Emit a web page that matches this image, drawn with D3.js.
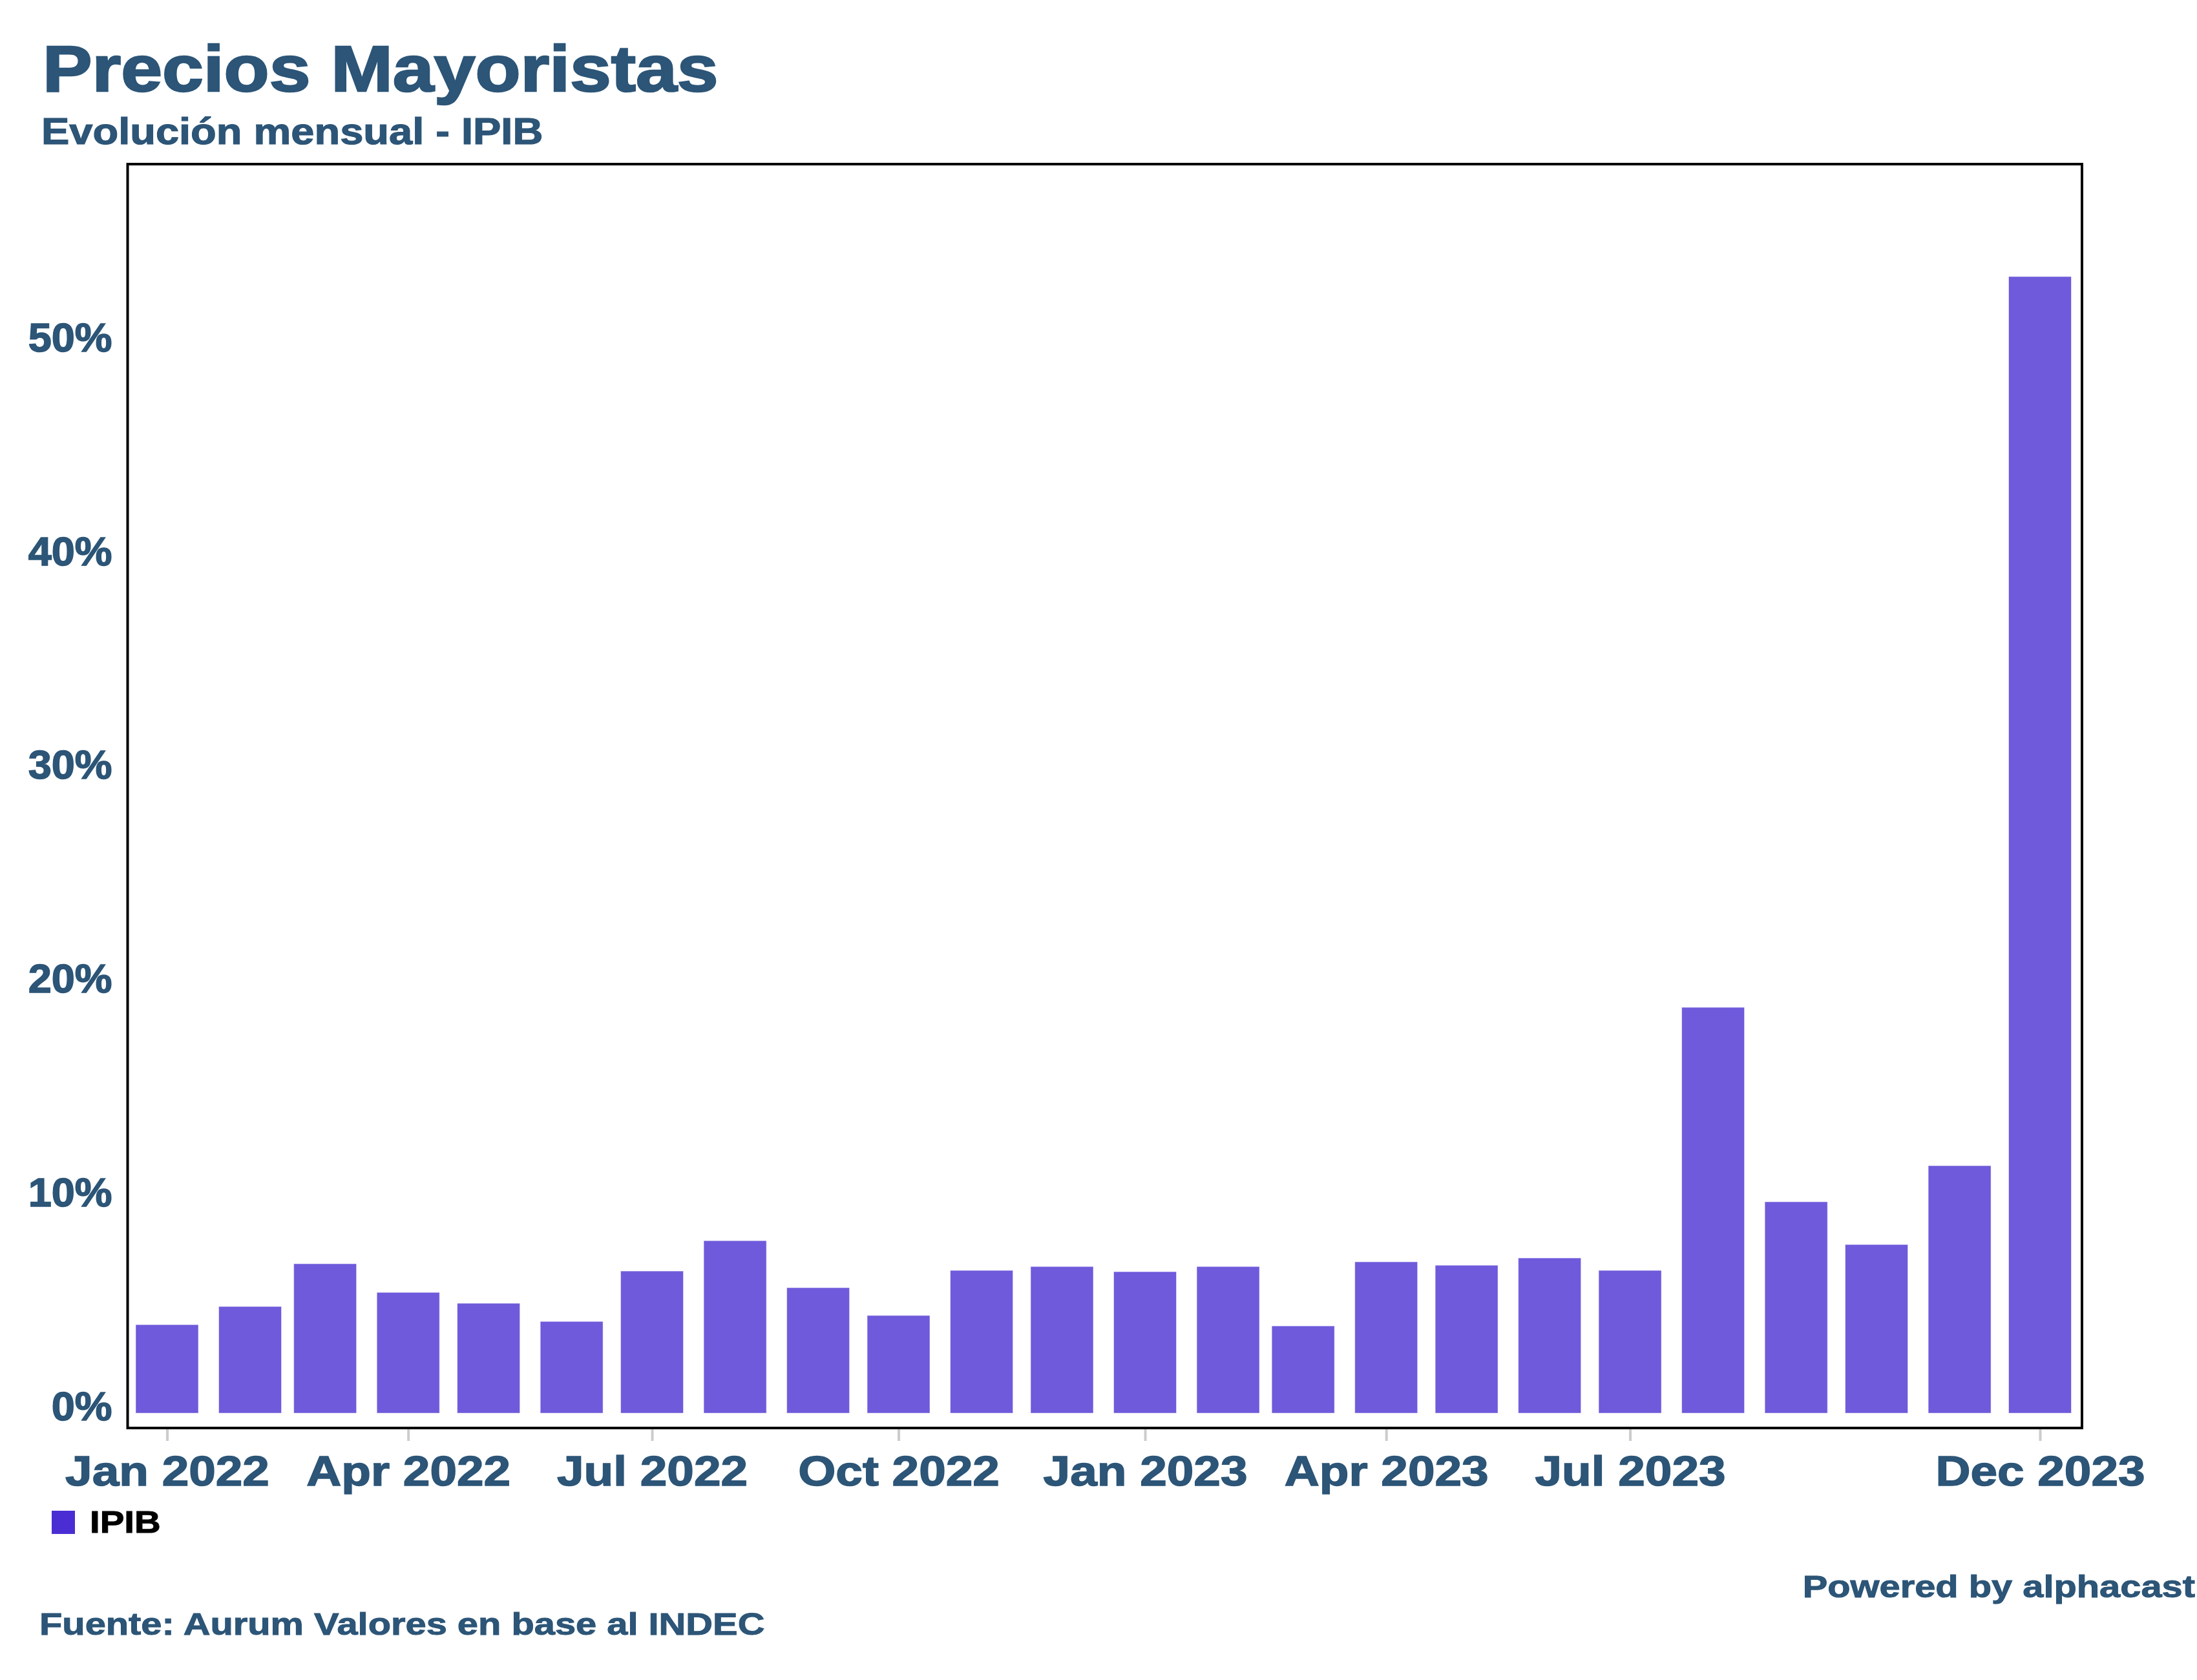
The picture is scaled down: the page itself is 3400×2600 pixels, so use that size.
<!DOCTYPE html>
<html>
<head>
<meta charset="utf-8">
<script src="https://cdn.jsdelivr.net/npm/d3@7"></script>
<style>
  body { margin: 0; background: #fff; }
  text { font-family: "Liberation Sans", Arial, sans-serif; font-weight: 700; }
</style>
</head>
<body>
<div id="chart"></div>
<script>
// monthly IPIB change, %
const months = ["2022-01", "2022-02", "2022-03", "2022-04", "2022-05", "2022-06",
  "2022-07", "2022-08", "2022-09", "2022-10", "2022-11", "2022-12",
  "2023-01", "2023-02", "2023-03", "2023-04", "2023-05", "2023-06",
  "2023-07", "2023-08", "2023-09", "2023-10", "2023-11", "2023-12"];
const ipib = [4.14, 4.99, 6.99, 5.65, 5.14, 4.29, 6.65, 8.07, 5.87, 4.57, 6.68, 6.86,
  6.62, 6.86, 4.08, 7.08, 6.92, 7.26, 6.68, 18.99, 9.89, 7.89, 11.58, 53.19];
const yTicks = [0, 10, 20, 30, 40, 50];
const xTickMonths = ["2022-01", "2022-04", "2022-07", "2022-10", "2023-01", "2023-04", "2023-07", "2023-12"];

const width = 3400, height = 2600;
const frame = { left: 197.5, top: 254, right: 3222, bottom: 2210 };
const textColor = "#2c5577";
const barColor = "#6e5adb";

const parseMonth = d3.utcParse("%Y-%m");
const fmtMonth = d3.utcFormat("%b %Y");

const svg = d3.select("#chart")
  .append("svg")
  .attr("width", width)
  .attr("height", height)
  .attr("viewBox", [0, 0, width, height]);

svg.append("rect").attr("width", width).attr("height", height).attr("fill", "#fff");

// widen Liberation Sans glyphs a bit so it reads like the heavy font in the original
function stretch(sel, k) {
  sel.each(function() {
    const w = this.getComputedTextLength();
    d3.select(this).attr("textLength", w * k).attr("lengthAdjust", "spacingAndGlyphs");
  });
}

const data = months.map((m, i) => ({ date: parseMonth(m), value: ipib[i] }));

let x = d3.scaleUtc()
  .domain([parseMonth(months[0]), parseMonth(months[months.length - 1])])
  .range([258.5, 3157]);

let y = d3.scaleLinear()
  .domain([0, 50])
  .range([2187, 533.5]);

const barW = 97;

// bars
svg.append("g")
  .selectAll("rect")
  .data(data)
  .join("rect")
    .attr("x", d => x(d.date) - barW / 2)
    .attr("y", d => y(d.value))
    .attr("width", barW)
    .attr("height", d => y(0) - y(d.value))
    .attr("fill", barColor)
    .attr("stroke", "rgba(255,255,255,0.5)")
    .attr("stroke-width", 1);

// x axis: ticks + labels
const xAxis = svg.append("g")
  .attr("transform", `translate(0,${frame.bottom})`)
  .call(d3.axisBottom(x)
    .tickValues(xTickMonths.map(parseMonth))
    .tickFormat(fmtMonth)
    .tickSize(20)
    .tickPadding(48));

xAxis.select(".domain").attr("stroke", "#ccc").attr("stroke-width", 3);
xAxis.selectAll(".tick line").attr("stroke", "#ccc").attr("stroke-width", 4);
xAxis.selectAll(".tick text")
  .attr("fill", textColor)
  .attr("font-size", 65)
  .attr("font-family", "Liberation Sans, Arial, sans-serif")
  .attr("font-weight", 700)
  .attr("stroke", textColor)
  .attr("stroke-width", 1.5)
  .attr("dy", "0")
  .attr("y", 89)
  .call(stretch, 1.15);

// y axis labels (no gridlines in the original)
const yAxis = svg.append("g")
  .attr("transform", `translate(${frame.left},0)`)
  .call(d3.axisLeft(y)
    .tickValues(yTicks)
    .tickFormat(d => d + "%")
    .tickSize(0)
    .tickPadding(24));

yAxis.select(".domain").remove();
yAxis.selectAll(".tick text")
  .attr("fill", textColor)
  .attr("font-size", 63)
  .attr("font-family", "Liberation Sans, Arial, sans-serif")
  .attr("font-weight", 700)
  .attr("stroke", textColor)
  .attr("stroke-width", 1.5)
  .attr("dy", "0")
  .attr("y", 10)
  .call(stretch, 1.03);

// plot frame
svg.append("rect")
  .attr("x", frame.left)
  .attr("y", frame.top)
  .attr("width", frame.right - frame.left)
  .attr("height", frame.bottom - frame.top)
  .attr("fill", "none")
  .attr("stroke", "#000")
  .attr("stroke-width", 4);

// title block
svg.append("text")
  .attr("x", 66)
  .attr("y", 141)
  .attr("font-size", 100)
  .attr("fill", textColor)
  .attr("stroke", textColor)
  .attr("stroke-width", 2.5)
  .text("Precios Mayoristas")
  .call(stretch, 1.147);

svg.append("text")
  .attr("x", 64)
  .attr("y", 223)
  .attr("font-size", 57)
  .attr("fill", textColor)
  .attr("stroke", textColor)
  .attr("stroke-width", 1.2)
  .text("Evolución mensual - IPIB")
  .call(stretch, 1.14);

// legend
const legend = svg.append("g").attr("transform", "translate(80,2338)");
legend.append("rect")
  .attr("width", 36)
  .attr("height", 36)
  .attr("fill", "#4a2ed4");
legend.append("text")
  .attr("x", 59)
  .attr("y", 34)
  .attr("font-size", 49)
  .attr("fill", "#000")
  .attr("stroke", "#000")
  .attr("stroke-width", 1)
  .text("IPIB")
  .call(stretch, 1.15);

// footer
svg.append("text")
  .attr("x", 3397)
  .attr("y", 2472)
  .attr("text-anchor", "end")
  .attr("font-size", 49)
  .attr("fill", textColor)
  .attr("stroke", textColor)
  .attr("stroke-width", 1)
  .text("Powered by alphacast")
  .call(stretch, 1.18);

svg.append("text")
  .attr("x", 61)
  .attr("y", 2530)
  .attr("font-size", 49)
  .attr("fill", textColor)
  .attr("stroke", textColor)
  .attr("stroke-width", 1)
  .text("Fuente: Aurum Valores en base al INDEC")
  .call(stretch, 1.18);
</script>
</body>
</html>
